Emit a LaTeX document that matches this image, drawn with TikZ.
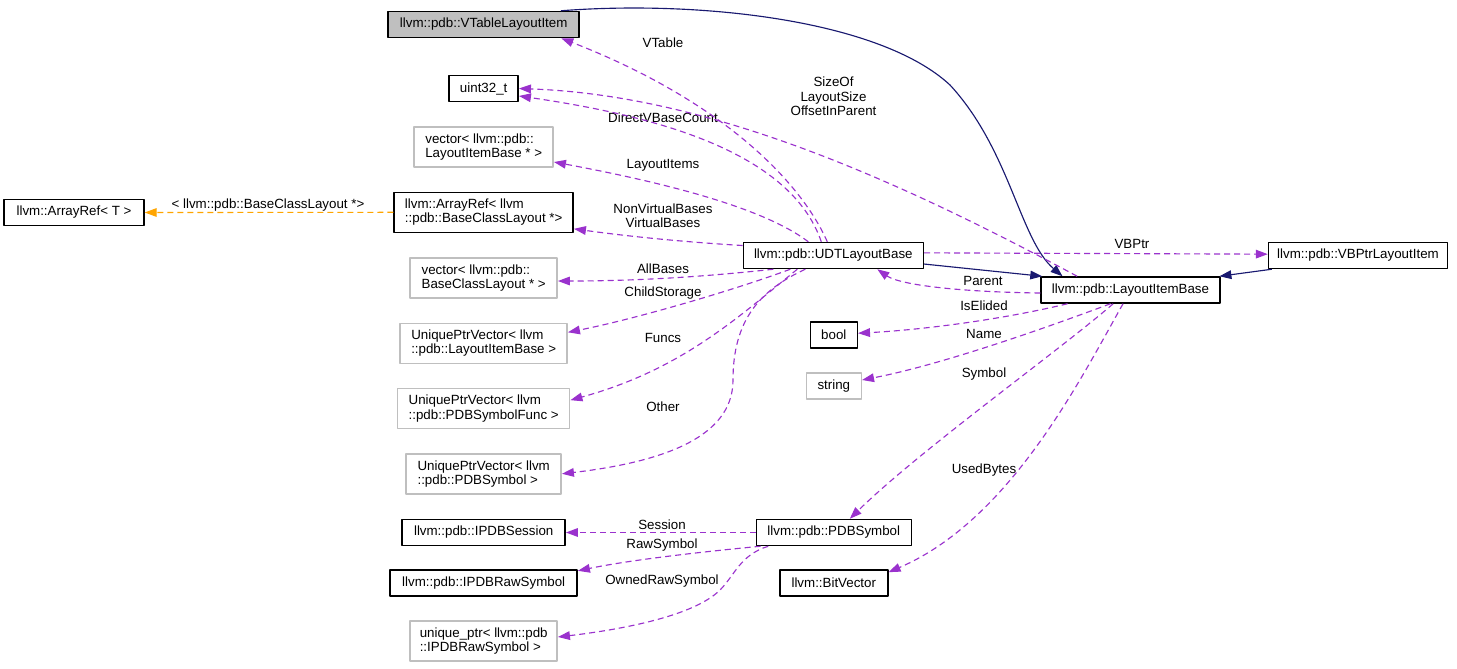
\documentclass[tikz,border=0pt]{standalone}
\usepackage{fontspec}
\setmainfont{Liberation Sans}
\usetikzlibrary{arrows.meta,calc}
\definecolor{edgepurple}{RGB}{154,50,205}
\definecolor{inhnavy}{RGB}{25,25,112}
\definecolor{tmplorange}{RGB}{255,165,0}
\definecolor{boxgray}{RGB}{191,191,191}

\begin{document}
\begin{tikzpicture}[x=0.75pt,y=-0.75pt,line join=round,font=\fontsize{10}{10.8}\selectfont,
  cls/.style={draw=black,line width=1.1pt,fill=white,inner sep=0pt,minimum height=19.5pt,align=left},
  ext/.style={cls,draw=boxgray},
  twoline/.style={minimum height=30pt},
  lbl/.style={inner sep=0pt,align=center},
  memb/.style={draw=edgepurple,line width=0.85pt,dash pattern=on 4.5pt off 3pt,-{Triangle[length=9pt,width=6.5pt]}},
  inh/.style={draw=inhnavy,line width=0.85pt,-{Triangle[length=9pt,width=6.5pt]}},
  tmpl/.style={draw=tmplorange,line width=0.85pt,dash pattern=on 4.5pt off 3pt,-{Triangle[length=9pt,width=6.5pt]}}]
  \useasboundingbox (0,0) rectangle (1457,668);
  % member types, left column
  \node[cls,fill=boxgray,minimum width=143.25pt] (vtable) at (483.7,24.5) {llvm::pdb::VTableLayoutItem};
  \node[cls,minimum width=51.75pt] (uint) at (483.7,88.5) {uint32\_t};
  \node[ext,twoline,minimum width=104.25pt] (vecitems) at (483.7,147) {vector< llvm::pdb::\\LayoutItemBase * >};
  \node[cls,twoline,minimum width=134.25pt] (arrref) at (483.7,212.3) {llvm::ArrayRef< llvm\\::pdb::BaseClassLayout *>};
  \node[cls,minimum width=105pt] (arrT) at (74,212.5) {llvm::ArrayRef< T >};
  \node[ext,twoline,minimum width=110.25pt] (vecbases) at (483.7,278) {vector< llvm::pdb::\\BaseClassLayout * >};
  \node[ext,twoline,minimum width=125.25pt] (upvitems) at (483.7,343.3) {UniquePtrVector< llvm\\::pdb::LayoutItemBase >};
  \node[ext,twoline,minimum width=129pt] (upvfuncs) at (483.7,408.7) {UniquePtrVector< llvm\\::pdb::PDBSymbolFunc >};
  \node[ext,twoline,minimum width=116.25pt] (upvsyms) at (483.7,473.8) {UniquePtrVector< llvm\\::pdb::PDBSymbol >};
  \node[cls,minimum width=122.25pt] (session) at (483.7,532.5) {llvm::pdb::IPDBSession};
  \node[cls,minimum width=140.25pt] (rawsym) at (483.7,582.8) {llvm::pdb::IPDBRawSymbol};
  \node[ext,twoline,minimum width=110.25pt] (uptr) at (483.7,641) {unique\_ptr< llvm::pdb\\::IPDBRawSymbol >};
  % classes
  \node[cls,minimum width=135pt] (udt) at (833.3,255.5) {llvm::pdb::UDTLayoutBase};
  \node[cls,minimum width=134.25pt] (lib) at (1130.5,290) {llvm::pdb::LayoutItemBase};
  \node[cls,minimum width=134.25pt] (vbptr) at (1358,255.5) {llvm::pdb::VBPtrLayoutItem};
  \node[cls,minimum width=35.25pt] (bool) at (833.8,335.2) {bool};
  \node[ext,minimum width=41.25pt] (string) at (833.8,386) {string};
  \node[cls,minimum width=116.25pt] (pdbsym) at (833.8,532.5) {llvm::pdb::PDBSymbol};
  \node[cls,minimum width=81pt] (bitvec) at (833.8,583.2) {llvm::BitVector};
  % edge labels
  \foreach \n/\p/\t in {lVTable/{663,42.3}/VTable, lDirect/{663,117.3}/DirectVBaseCount, lItems/{663,165}/LayoutItems,
      lAll/{663,268.3}/AllBases, lChild/{663,293.3}/ChildStorage, lFuncs/{663,338.3}/Funcs, lOther/{663,406.3}/Other,
      lVBPtr/{1132,244}/VBPtr, lParent/{983,280.5}/Parent, lElided/{984,305.3}/IsElided, lName/{984,334.3}/Name,
      lSymbol/{984,374.3}/Symbol, lUsed/{984,470.3}/UsedBytes, lSession/{662,524.3}/Session,
      lRaw/{662,545}/RawSymbol, lOwned/{662,580.7}/OwnedRawSymbol}
    \node[lbl] (\n) at (\p) {\t};
  \node[lbl] (lSize) at (833.5,96.3) {SizeOf\\LayoutSize\\OffsetInParent};
  \node[lbl] (lBases) at (663,215.5) {NonVirtualBases\\VirtualBases};
  \node[lbl] (lTmpl) at (268,205) {< llvm::pdb::BaseClassLayout *>};
  % inheritance
  \draw[inh] ([yshift=-6.4pt]udt.east) -- ([xshift=1.5pt]lib.north west);
  \draw[inh] ([xshift=3pt]vbptr.south west) -- ([xshift=-1pt]lib.north east);
  \draw[inh] ([xshift=-14.25pt]vtable.north east) .. controls (700,0) and (880,20) .. (950,85)
    .. controls (1010,150) and (1020,240) .. ([xshift=-51pt]lib.north);
  \draw[tmpl] (arrref.west) -- (arrT.east);
  % members of UDTLayoutBase
  \draw[memb] ([xshift=-4.5pt]udt.north) .. controls (800,180) and (720,100) .. ([xshift=-14pt]vtable.south east);
  \draw[memb] ([xshift=-9pt]udt.north) .. controls (790,150) and (650,115) .. ([yshift=-5.6pt]uint.east);
  \draw[memb] ([xshift=-18.75pt]udt.north) .. controls (760,205) and (650,180) .. ([yshift=-11.25pt]vecitems.east);
  \draw[memb] ([yshift=7.5pt]udt.west) .. controls (700,243) and (640,238) .. ([yshift=-12.4pt]arrref.east);
  \draw[memb] ([xshift=-45pt]udt.south) .. controls (720,275) and (650,281) .. ([yshift=-2.25pt]vecbases.east);
  \draw[memb] ([xshift=-32.25pt]udt.south) .. controls (740,288) and (640,318) .. ([yshift=8.25pt]upvitems.east);
  \draw[memb] ([xshift=-27pt]udt.south) .. controls (735,320) and (680,370) .. ([yshift=6.4pt]upvfuncs.east);
  \draw[memb] ([xshift=-21pt]udt.south) .. controls (760,290) and (733,320) .. (733,380)
    .. controls (733,430) and (680,460) .. (upvsyms.east);
  \draw[memb] ([yshift=2pt]udt.east) -- ([yshift=1pt]vbptr.west);
  % members of LayoutItemBase
  \draw[memb] ([xshift=-40pt]lib.north) .. controls (880,170) and (700,95) .. (uint.east);
  \draw[memb] ([yshift=-2.25pt]lib.west) .. controls (960,292) and (900,285) .. ([xshift=33pt]udt.south);
  \draw[memb] ([xshift=-47.25pt]lib.south) .. controls (1000,320) and (920,330) .. ([yshift=1.5pt]bool.east);
  \draw[memb] ([xshift=-15pt]lib.south) .. controls (1040,330) and (940,365) .. ([yshift=4.5pt]string.east);
  \draw[memb] ([xshift=-13pt]lib.south) .. controls (1060,350) and (920,450) .. ([xshift=12pt]pdbsym.north);
  \draw[memb] ([xshift=-5.6pt]lib.south) .. controls (1080,380) and (1010,520) .. ([yshift=8.25pt]bitvec.east);
  % members of PDBSymbol
  \draw[memb] (pdbsym.west) -- (session.east);
  \draw[memb] ([xshift=3.75pt]pdbsym.south west) .. controls (700,552) and (630,560) .. ([yshift=9pt]rawsym.east);
  \draw[memb] ([xshift=9.5pt]pdbsym.south west) .. controls (740,555) and (735,575) .. (720,590)
    .. controls (690,620) and (600,632) .. ([yshift=3pt]uptr.east);
\end{tikzpicture}
\end{document}
